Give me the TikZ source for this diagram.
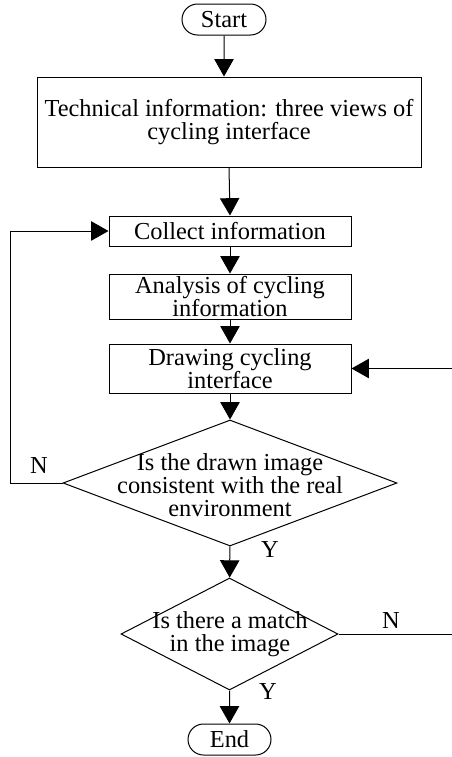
\documentclass[tikz,border=0pt]{standalone}
\usepackage{fontspec}
\setmainfont{Liberation Serif}
\usetikzlibrary{arrows.meta,shapes.geometric,shapes.misc}

\tikzset{every picture/.style={line width=0.75pt}}
\tikzset{
	flowfont/.style={font=\fontsize{18.3pt}{17.5pt}\selectfont},
	flowbox/.style={draw, rectangle, inner sep=0.75pt, align=center, flowfont},
	terminal/.style={draw, rounded rectangle, inner sep=0.75pt, flowfont},
	decision/.style={draw, diamond, inner sep=0pt},
	decisiontext/.style={inner sep=0.75pt, align=center, flowfont},
	yn/.style={inner sep=0.75pt, flowfont},
	flowarrow/.style={-{Triangle[length=13pt,width=14.5pt]}}}

\begin{document}
\begin{tikzpicture}[x=0.75pt,y=0.75pt,yscale=-1,xscale=1]
\useasboundingbox (0,0) rectangle (452,757);

%Shape: Start / End
\node [terminal, minimum width=64.5pt, minimum height=23.25pt] (start) at (224,19.5) {Start};
\node [terminal, minimum width=63.75pt, minimum height=23.25pt] (end) at (229.5,739.5) {End};

%Shape: Rectangles
\node [flowbox, minimum width=288pt, minimum height=67.5pt] (info) at (229,122) {Technical information: three views of\\cycling interface};
\node [flowbox, minimum width=181.5pt, minimum height=22.5pt] (collect) at (230,231) {Collect information};
\node [flowbox, minimum width=181.5pt, minimum height=33.75pt] (analysis) at (230,296.5) {Analysis of cycling\\information};
\node [flowbox, minimum width=181.5pt, minimum height=36.75pt] (drawing) at (230,368.5) {Drawing cycling\\interface};

%Shape: Diamonds
\node [decision, minimum width=250.5pt, minimum height=94.5pt] (dec1) at (230,483) {};
\node [decisiontext] (dec1txt) at (230,485) {Is the drawn image\\consistent with the real\\environment};
\node [decision, minimum width=162.75pt, minimum height=84pt] (dec2) at (229.5,634) {};
\node [decisiontext] (dec2txt) at (230,634) {Is there a match\\in the image};

% Free ends
\coordinate (loopL) at (10,483);
\coordinate (rin) at (452,368.5);
\coordinate (rout) at (452,634);

%Straight Lines
\draw [flowarrow] (start) -- (start |- info.north);
\draw [flowarrow] (info.south) -- (collect.north);
\draw [flowarrow] (collect) -- (analysis);
\draw [flowarrow] (analysis) -- (drawing);
\draw [flowarrow] (drawing) -- (dec1);
\draw [flowarrow] (dec1) -- (dec2);
\draw [flowarrow] (dec2) -- (end);
\draw [flowarrow] (dec1.west) -- (loopL) |- (collect.west);
\draw [flowarrow] (rin) -- (drawing.east);
\draw (dec2.east) -- (rout);

% Text Node
\node [yn] (n1) at (39,466) {N};
\node [yn] (y1) at (270,550) {Y};
\node [yn] (n2) at (391,621) {N};
\node [yn] (y2) at (268,692) {Y};

\end{tikzpicture}
\end{document}
